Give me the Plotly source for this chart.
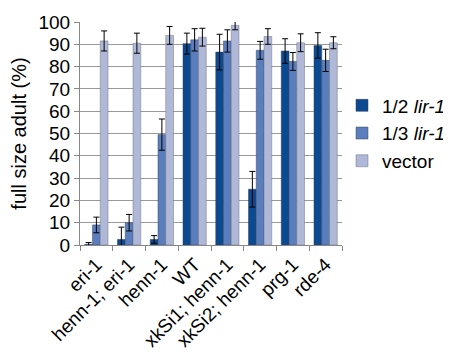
import plotly.graph_objects as go

categories = ["eri-1", "henn-1; eri-1", "henn-1", "WT", "xkSi1; henn-1",
              "xkSi2; henn-1", "prg-1", "rde-4"]
half_lir1 = [0.3, 2.5, 2.5, 90.3, 86.5, 25.0, 87.0, 89.5]
half_err = [0.8, 5.5, 1.7, 4.7, 8.0, 8.0, 5.5, 5.7]
third_lir1 = [9.0, 10.0, 49.5, 92.0, 91.5, 87.3, 82.3, 82.8]
third_err = [3.5, 3.7, 7.0, 5.0, 5.0, 4.0, 4.0, 5.0]
vector = [91.5, 90.5, 94.0, 93.2, 98.5, 93.5, 90.7, 90.7]
vector_err = [4.5, 4.5, 4.0, 4.0, 2.0, 3.5, 4.0, 2.7]

FONT = "Arial, Liberation Sans, sans-serif"

def err(a):
    return dict(type="data", array=a, visible=True, color="black", thickness=1, width=3)

fig = go.Figure()
fig.add_trace(go.Bar(x=categories, y=half_lir1, name="1/2 <i>lir-1</i>",
                     marker=dict(color="#0b4a91", line=dict(color="#333c55", width=0.5)),
                     error_y=err(half_err)))
fig.add_trace(go.Bar(x=categories, y=third_lir1, name="1/3 <i>lir-1</i>",
                     marker=dict(color="#5a7ebd", line=dict(color="#3c4660", width=0.5)),
                     error_y=err(third_err)))
fig.add_trace(go.Bar(x=categories, y=vector, name="vector",
                     marker=dict(color="#b0b8d8", line=dict(color="#6e7384", width=0.5)),
                     error_y=err(vector_err)))

# the page body adds an 8px offset, so the figure is sized/margined to compensate
fig.update_layout(
    width=443, height=347,
    margin=dict(l=72, r=109, t=14, b=110, autoexpand=False),
    paper_bgcolor="white", plot_bgcolor="white",
    barmode="group", bargap=0.29, bargroupgap=0,
    font=dict(family=FONT, size=19, color="black"),
    showlegend=True,
    legend=dict(x=1.0, xanchor="left", y=0.5, yanchor="middle",
                font=dict(size=19), tracegroupgap=0, itemwidth=30,
                bgcolor="rgba(0,0,0,0)"),
    xaxis=dict(tickangle=-45, tickson="boundaries", ticks="outside", ticklen=5,
               tickcolor="#888888", showline=True, linecolor="#888888", linewidth=1,
               tickfont=dict(size=19), showgrid=False, automargin=False),
    yaxis=dict(range=[0, 100], dtick=10, ticks="outside", ticklen=5,
               tickcolor="#888888", showline=True, linecolor="#888888", linewidth=1,
               showgrid=True, gridcolor="#999999", gridwidth=1,
               tickfont=dict(size=19), automargin=False,
               title=dict(text="full size adult (%)", font=dict(size=20), standoff=8)),
)

fig.write_html("out.html")
